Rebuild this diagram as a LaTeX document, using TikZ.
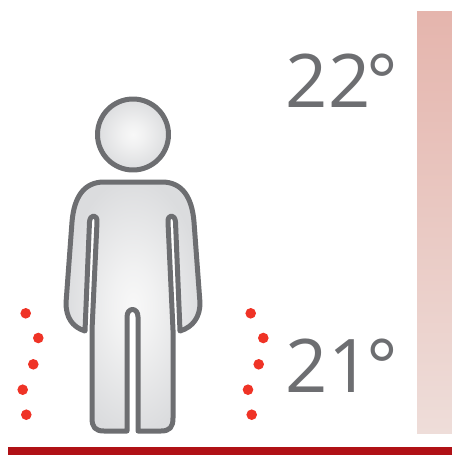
\documentclass[tikz,border=0pt]{standalone}
\usepackage{fontspec}
\setmainfont{Open Sans}
\usepackage{tikz}
\definecolor{figline}{HTML}{6D6E71}
\definecolor{figedge}{HTML}{DBDCDE}
\definecolor{figmid}{HTML}{F8F8F8}
\definecolor{dotred}{HTML}{EF3326}
\definecolor{floorred}{HTML}{B01116}
\definecolor{bartop}{HTML}{E5B5AD}
\definecolor{barbot}{HTML}{EEDDD9}
\pgfdeclareradialshading{figshade}{\pgfpoint{0bp}{0bp}}{%
  color(0bp)=(figmid); color(8bp)=(figmid!75!figedge); color(26bp)=(figedge); color(50bp)=(figedge)}
\tikzset{
  figure/.style={
    draw=figline, line width=5pt, line join=round, shading=figshade
  },
  head/.style={
    figure, circle, minimum size=71pt, inner sep=0pt
  },
  heat/.style={
    circle, fill=dotred, minimum size=10.6pt, inner sep=0pt
  },
  temp/.style={
    anchor=base west, inner sep=0pt, text=figline, font=\fontsize{74}{74}\selectfont
  },
}

\begin{document}
\begin{tikzpicture}[x=1pt, y=-1pt]
    \useasboundingbox (0,0) rectangle (452,455);
    % scale bar and floor
    \shade[top color=bartop, bottom color=barbot] (417,11) rectangle (452,433);
    \fill[floorred] (8,447) rectangle (452,455);
    % person
    \node[head] (skull) at (133,134.5) {};
    \draw[figure]
      (85,331) .. controls (72,327) and (66,317) .. (66,303)
      -- (72,222) .. controls (74,197) and (84,182) .. (104,182)
      -- (162,182) .. controls (182,182) and (192,197) .. (194,222)
      -- (200,303) .. controls (200,317) and (193,327) .. (180,331)
      -- (175.5,222) .. controls (175,214) and (167.5,214) .. (168,222)
      -- (173,330) -- (173,418) .. controls (173,427) and (170,431) .. (161,431)
      -- (138,431) -- (138,317) .. controls (138,307) and (127,307) .. (127,317)
      -- (127,431) -- (104,431) .. controls (95,431) and (92,427) .. (92,418)
      -- (92,330) -- (97,222) .. controls (97.5,214) and (90,214) .. (89.5,222)
      -- cycle;
    % heat dots
    \foreach \name/\px/\py in {a/25.7/313.3, b/38.3/338, c/33.3/364.3, d/22.7/389.7, e/26.3/414.7}
      \node[heat] (left\name) at (\px,\py) {};
    \foreach \name/\px/\py in {a/250.7/313.3, b/263.3/338, c/258.7/364.3, d/248/389.7, e/251.7/414.7}
      \node[heat] (right\name) at (\px,\py) {};
    % temperatures
    \node[temp] (upper) at (285.5,107.3) {22\kern-4pt°};
    \node[temp] (lower) at (285.5,392.7) {21\kern-4pt°};
\end{tikzpicture}
\end{document}
